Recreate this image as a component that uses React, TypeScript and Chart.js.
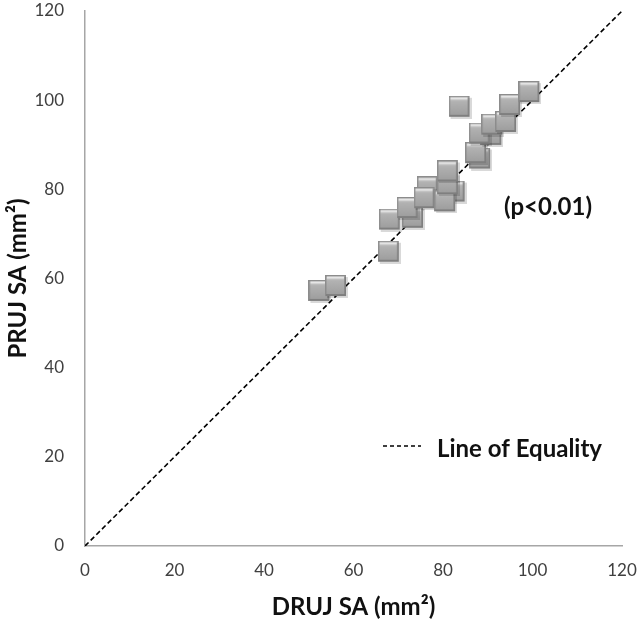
import React, { useEffect, useRef } from "react";
import { Chart, registerables } from "chart.js";

Chart.register(...registerables);

// DRUJ SA (x) and PRUJ SA (y), mm²
const drujSA = [52.5, 56.2, 68.0, 68.2, 73.4, 72.2, 76.7, 76.0, 82.7, 80.6, 81.2, 81.2, 83.8, 88.4, 87.5, 90.9, 88.3, 91.1, 94.2, 95.1, 99.4];
const prujSA = [57.1, 58.2, 65.9, 73.1, 73.5, 75.7, 80.3, 77.9, 79.4, 77.2, 81.0, 83.9, 98.4, 86.8, 88.0, 92.1, 92.4, 94.4, 95.0, 98.8, 101.7];
const equalityLine = [0, 120];
const tickValues = [0, 20, 40, 60, 80, 100, 120];

const xTitle = "DRUJ SA (mm²)";
const yTitle = "PRUJ SA (mm²)";
const legendLabel = "Line of Equality";
const pLabel = "(p<0.01)";

function makeMarker(): HTMLCanvasElement {
  const s = 23;
  const c = document.createElement("canvas");
  c.width = s;
  c.height = s;
  const g = c.getContext("2d")!;
  // soft shadow
  g.fillStyle = "rgba(0,0,0,0.15)";
  g.fillRect(2, 2, 21, 21);
  // outer edge
  g.fillStyle = "#8c8c8c";
  g.fillRect(0, 0, 21, 21);
  // face
  const grad = g.createLinearGradient(0, 1, 0, 20);
  grad.addColorStop(0, "#d8d8d8");
  grad.addColorStop(0.25, "#b2b2b2");
  grad.addColorStop(1, "#9d9d9d");
  g.fillStyle = grad;
  g.fillRect(1.5, 1.5, 18, 17.5);
  // top highlight
  g.fillStyle = "rgba(255,255,255,0.55)";
  g.fillRect(2, 1.5, 17, 2);
  // bottom/right bevel
  g.fillStyle = "#7f7f7f";
  g.fillRect(1, 19, 20, 2);
  g.fillRect(19.5, 2, 1.5, 18);
  return c;
}

export default function App() {
  const ref = useRef<HTMLCanvasElement | null>(null);

  useEffect(() => {
    document.body.style.margin = "0";
    const canvas = ref.current!;
    const marker = makeMarker();

    const textPlugin = {
      id: "annotations",
      afterDatasetsDraw(chart: any) {
        const ctx = chart.ctx as CanvasRenderingContext2D;
        ctx.save();
        ctx.fillStyle = "#111";
        ctx.font = "bold 24px Lato";
        ctx.textBaseline = "middle";
        ctx.textAlign = "center";
        ctx.fillText(pLabel, 548, 207);
        // legend
        ctx.strokeStyle = "#000";
        ctx.lineWidth = 1.5;
        ctx.setLineDash([4, 3]);
        ctx.beginPath();
        ctx.moveTo(383, 446);
        ctx.lineTo(421, 446);
        ctx.stroke();
        ctx.setLineDash([]);
        ctx.textAlign = "left";
        ctx.fillText(legendLabel, 437, 449);
        ctx.restore();
      },
    };

    const chart = new Chart(canvas, {
      type: "scatter",
      data: {
        datasets: [
          {
            type: "line",
            label: legendLabel,
            data: equalityLine.map((v) => ({ x: v, y: v })),
            borderColor: "#000",
            borderWidth: 1.6,
            borderDash: [5, 3],
            pointRadius: 0,
            fill: false,
            order: 2,
          } as any,
          {
            label: "PRUJ vs DRUJ",
            data: drujSA.map((x, i) => ({ x, y: prujSA[i] })),
            pointStyle: marker as any,
            pointRadius: 10,
            order: 1,
          },
        ],
      },
      options: {
        responsive: false,
        animation: false,
        layout: { padding: { top: 8, right: 21, left: 0, bottom: 0 } },
        plugins: {
          legend: { display: false },
          tooltip: { enabled: false },
        },
        scales: {
          x: {
            type: "linear",
            min: 0,
            max: 120,
            afterBuildTicks: (s: any) => {
              s.ticks = tickValues.map((v) => ({ value: v }));
            },
            afterFit: (s: any) => {
              s.height = 78;
              s.paddingLeft = 0;
              s.paddingRight = 0;
            },
            ticks: {
              font: { family: "Lato", size: 17 },
              color: "#404040",
              padding: 14,
            },
            grid: { display: true, color: "rgba(0,0,0,0)", drawTicks: false },
            border: { display: true, color: "#a6a6a6", width: 1.5 },
            title: {
              display: true,
              text: xTitle,
              font: { family: "Lato", size: 24, weight: "bold" },
              color: "#111",
              padding: { top: 0, bottom: 2 },
            },
          },
          y: {
            type: "linear",
            min: 0,
            max: 120,
            afterBuildTicks: (s: any) => {
              s.ticks = tickValues.map((v) => ({ value: v }));
            },
            afterFit: (s: any) => {
              s.width = 85;
              s.paddingTop = 0;
              s.paddingBottom = 0;
            },
            ticks: {
              font: { family: "Lato", size: 17 },
              color: "#404040",
              padding: 21,
            },
            grid: { display: true, color: "rgba(0,0,0,0)", drawTicks: false },
            border: { display: true, color: "#a6a6a6", width: 1.5 },
            title: {
              display: true,
              text: yTitle,
              font: { family: "Lato", size: 24, weight: "bold" },
              color: "#111",
              padding: { top: 4, bottom: 0 },
            },
          },
        },
      },
      plugins: [textPlugin],
    });

    return () => chart.destroy();
  }, []);

  return (
    <div style={{ position: "absolute", left: 0, top: 0, width: 643, height: 624, background: "#fff" }}>
      <canvas ref={ref} width={643} height={624} />
    </div>
  );
}
